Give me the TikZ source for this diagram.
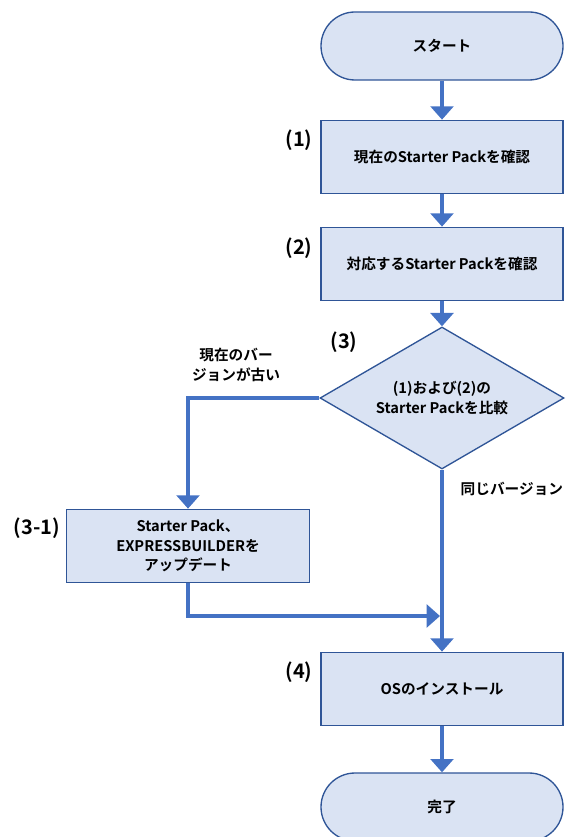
\documentclass[tikz,border=0pt]{standalone}
\usepackage{fontspec}
\setmainfont{Noto Sans CJK JP}[BoldFont={Noto Sans CJK JP Bold}]
\usepackage{tikz}
\usetikzlibrary{shapes.geometric, arrows, arrows.meta}
\usetikzlibrary{positioning}
\definecolor{boxfill}{HTML}{DAE3F3}
\definecolor{boxline}{HTML}{2F5597}
\definecolor{flowblue}{HTML}{4472C4}
\tikzstyle{startstop} = [rectangle, rounded corners=25.5pt, minimum width=181.5pt, minimum height=51pt, text centered, draw=boxline, fill=boxfill, line width=1pt, font=\fontsize{11}{14.5}\selectfont\bfseries]
\tikzstyle{process} = [rectangle, minimum width=181.5pt, minimum height=55pt, text centered, align=center, draw=boxline, fill=boxfill, line width=1pt, font=\fontsize{11}{14.5}\selectfont\bfseries]
\tikzstyle{decision} = [diamond, aspect=1.72, inner sep=0pt, minimum width=183pt, minimum height=106.5pt, text centered, align=center, draw=boxline, fill=boxfill, line width=1pt, font=\fontsize{11}{14.5}\selectfont\bfseries]
\tikzstyle{arrow} = [line width=3.6pt, draw=flowblue, -{Triangle[width=17pt,length=10pt]}]
\tikzstyle{steplabel} = [font=\fontsize{15}{17}\selectfont\bfseries]
\tikzstyle{branchlabel} = [align=center, font=\fontsize{11}{14.5}\selectfont\bfseries]

\begin{document}
\begin{tikzpicture}[x=0.75pt,y=-0.75pt]
\useasboundingbox (0,0) rectangle (577,837);
\clip (0,0) rectangle (577,837);
\node (start) [startstop] at (442,46) {スタート};
\node (check1) [process] at (442,157) {現在のStarter Packを確認};
\node (check2) [process] at (442,264) {対応するStarter Packを確認};
\node (compare) [decision] at (442,398) {(1)および(2)の\\Starter Packを比較};
\node (update) [process, minimum width=182pt] at (188,546) {Starter Pack、\\EXPRESSBUILDERを\\アップデート};
\node (install) [process] at (442,689) {OSのインストール};
\node (finish) [startstop] at (442,807) {完了};
\coordinate (merge) at (442,616);

\node [steplabel] at (299,140) {(1)};
\node [steplabel] at (299,248) {(2)};
\node [steplabel] at (344,342) {(3)};
\node [steplabel] at (37,528) {(3-1)};
\node [steplabel] at (299,672) {(4)};
\node [branchlabel] at (236,365) {現在のバー\\ジョンが古い};
\node [branchlabel, anchor=west] at (456,489) {同じバージョン};

\draw [arrow] (start) -- (check1);
\draw [arrow] (check1) -- (check2);
\draw [arrow] (check2) -- (compare);
\draw [arrow] (compare.west) -| (update.north);
\draw [arrow] (compare.south) -- (install.north);
\draw [arrow, shorten >=1.5pt] (update.south) |- (merge);
\draw [arrow] (install) -- (finish);
\end{tikzpicture}
\end{document}
